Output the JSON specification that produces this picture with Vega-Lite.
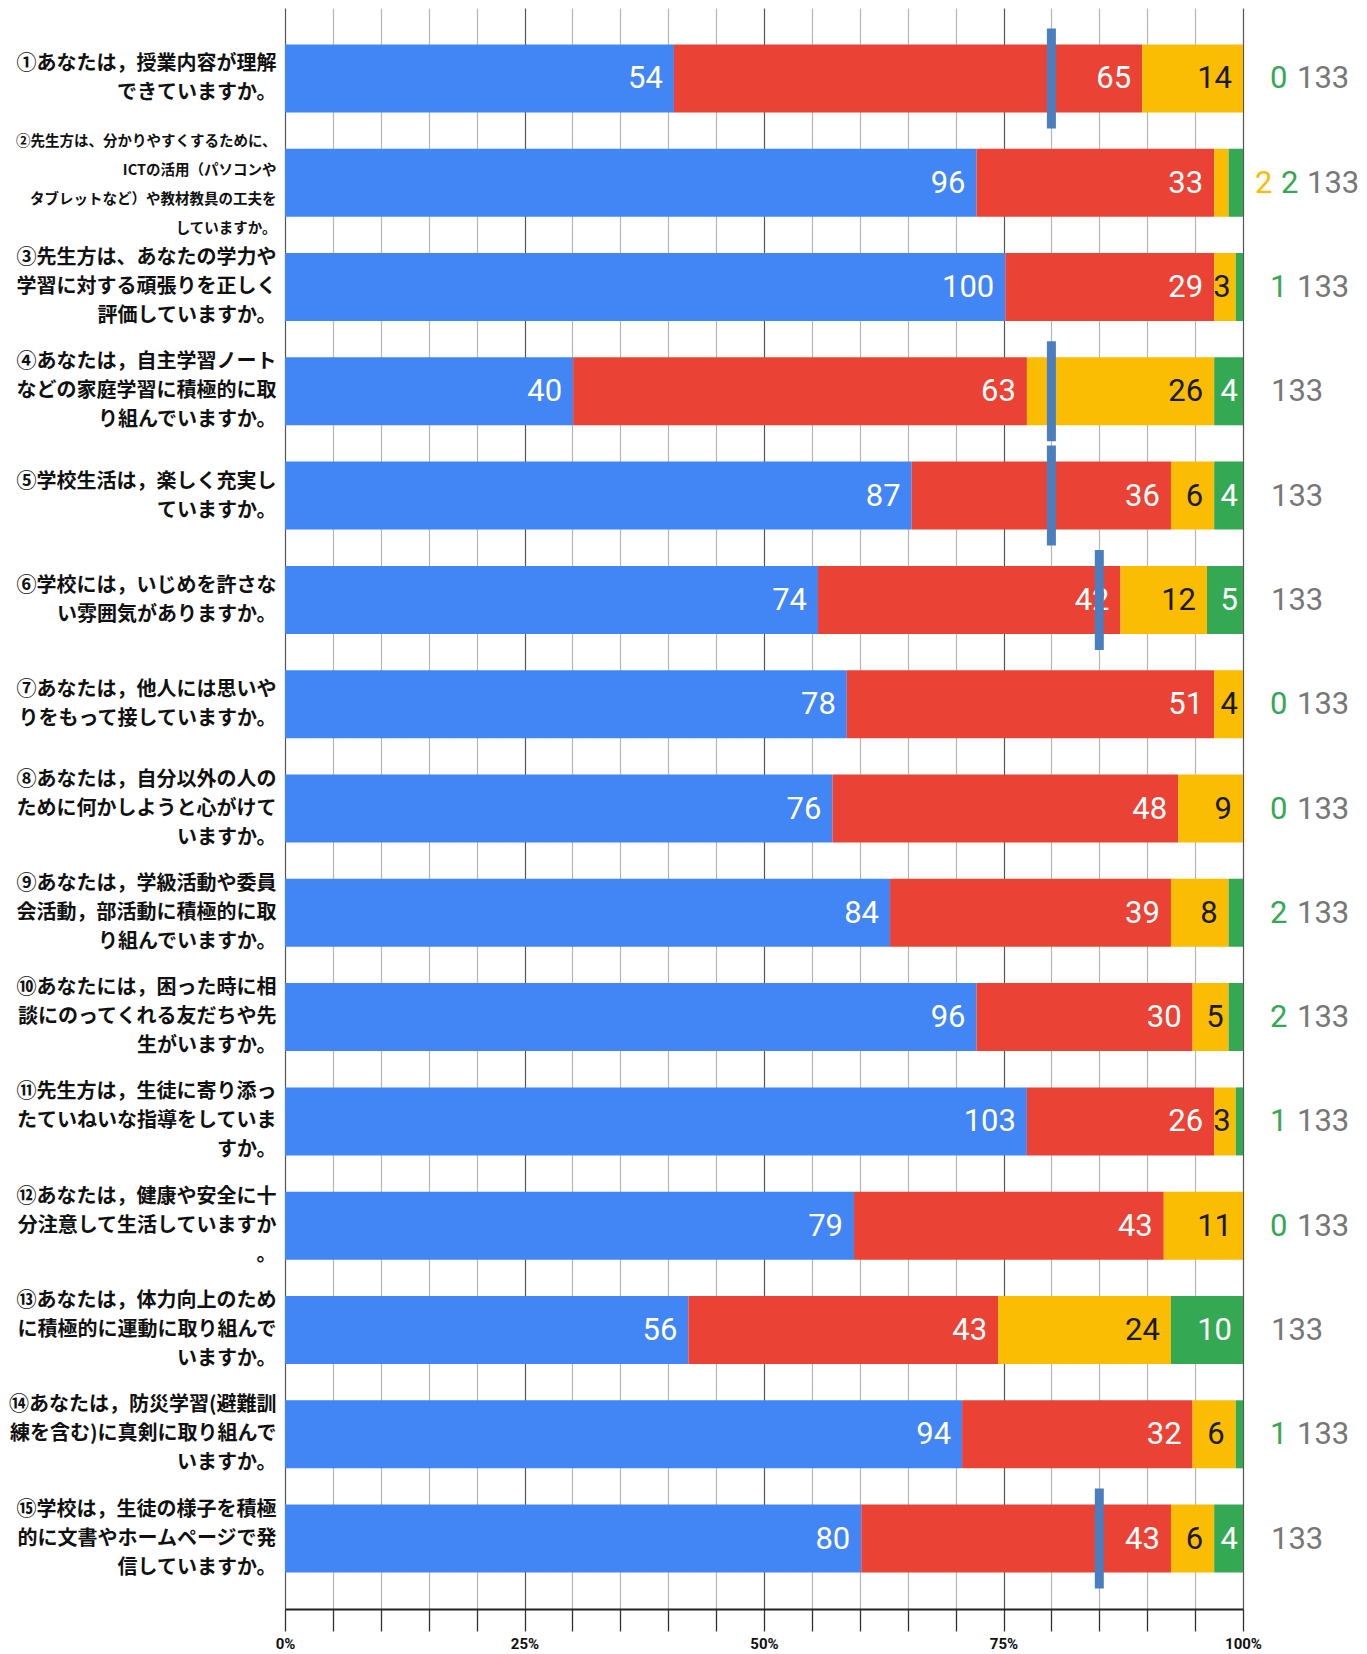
{
  "$schema": "https://vega.github.io/schema/vega-lite/v6.json",
  "autosize": "none",
  "width": 958,
  "height": 1601,
  "padding": {"left": 285, "top": 8, "right": 124, "bottom": 45},
  "background": "white",
  "config": {"view": {"stroke": null}},
  "data": {
    "values": [
      {"q": "①あなたは，授業内容が理解\nできていますか。", "よくあてはまる": 54, "ややあてはまる": 65, "あまりあてはまらない": 14, "あてはまらない": 0, "total": 133, "target": 0.8},
      {"q": "②先生方は、分かりやすくするために、\nICTの活用（パソコンや\nタブレットなど）や教材教具の工夫を\nしていますか。", "よくあてはまる": 96, "ややあてはまる": 33, "あまりあてはまらない": 2, "あてはまらない": 2, "total": 133, "target": null},
      {"q": "③先生方は、あなたの学力や\n学習に対する頑張りを正しく\n評価していますか。", "よくあてはまる": 100, "ややあてはまる": 29, "あまりあてはまらない": 3, "あてはまらない": 1, "total": 133, "target": null},
      {"q": "④あなたは，自主学習ノート\nなどの家庭学習に積極的に取\nり組んでいますか。", "よくあてはまる": 40, "ややあてはまる": 63, "あまりあてはまらない": 26, "あてはまらない": 4, "total": 133, "target": 0.8},
      {"q": "⑤学校生活は，楽しく充実し\nていますか。", "よくあてはまる": 87, "ややあてはまる": 36, "あまりあてはまらない": 6, "あてはまらない": 4, "total": 133, "target": 0.8},
      {"q": "⑥学校には，いじめを許さな\nい雰囲気がありますか。", "よくあてはまる": 74, "ややあてはまる": 42, "あまりあてはまらない": 12, "あてはまらない": 5, "total": 133, "target": 0.85},
      {"q": "⑦あなたは，他人には思いや\nりをもって接していますか。", "よくあてはまる": 78, "ややあてはまる": 51, "あまりあてはまらない": 4, "あてはまらない": 0, "total": 133, "target": null},
      {"q": "⑧あなたは，自分以外の人の\nために何かしようと心がけて\nいますか。", "よくあてはまる": 76, "ややあてはまる": 48, "あまりあてはまらない": 9, "あてはまらない": 0, "total": 133, "target": null},
      {"q": "⑨あなたは，学級活動や委員\n会活動，部活動に積極的に取\nり組んでいますか。", "よくあてはまる": 84, "ややあてはまる": 39, "あまりあてはまらない": 8, "あてはまらない": 2, "total": 133, "target": null},
      {"q": "⑩あなたには，困った時に相\n談にのってくれる友だちや先\n生がいますか。", "よくあてはまる": 96, "ややあてはまる": 30, "あまりあてはまらない": 5, "あてはまらない": 2, "total": 133, "target": null},
      {"q": "⑪先生方は，生徒に寄り添っ\nたていねいな指導をしていま\nすか。", "よくあてはまる": 103, "ややあてはまる": 26, "あまりあてはまらない": 3, "あてはまらない": 1, "total": 133, "target": null},
      {"q": "⑫あなたは，健康や安全に十\n分注意して生活していますか\n。", "よくあてはまる": 79, "ややあてはまる": 43, "あまりあてはまらない": 11, "あてはまらない": 0, "total": 133, "target": null},
      {"q": "⑬あなたは，体力向上のため\nに積極的に運動に取り組んで\nいますか。", "よくあてはまる": 56, "ややあてはまる": 43, "あまりあてはまらない": 24, "あてはまらない": 10, "total": 133, "target": null},
      {"q": "⑭あなたは，防災学習(避難訓\n練を含む)に真剣に取り組んで\nいますか。", "よくあてはまる": 94, "ややあてはまる": 32, "あまりあてはまらない": 6, "あてはまらない": 1, "total": 133, "target": null},
      {"q": "⑮学校は，生徒の様子を積極\n的に文書やホームページで発\n信していますか。", "よくあてはまる": 80, "ややあてはまる": 43, "あまりあてはまらない": 6, "あてはまらない": 4, "total": 133, "target": 0.85}
    ]
  },
  "transform": [
    {"fold": ["よくあてはまる", "ややあてはまる", "あまりあてはまらない", "あてはまらない"], "as": ["c", "n"]},
    {"calculate": "indexof(['よくあてはまる', 'ややあてはまる', 'あまりあてはまらない', 'あてはまらない'], datum.c)", "as": "k"},
    {"calculate": "(datum['あまりあてはまらない'] < 3 ? 1 : 0) + (datum['あてはまらない'] < 3 ? 1 : 0)", "as": "o"},
    {"stack": "n", "groupby": ["q"], "sort": [{"field": "k", "order": "ascending"}], "offset": "normalize", "as": ["x0", "x1"]}
  ],
  "encoding": {
    "y": {
      "field": "q",
      "type": "nominal",
      "sort": null,
      "title": null,
      "scale": {"paddingInner": 0.348, "paddingOuter": 0.349},
      "axis": {
        "domain": false,
        "ticks": false,
        "grid": false,
        "labelExpr": "split(datum.label, '\\n')",
        "labelFont": "Noto Sans CJK JP",
        "labelFontWeight": "bold",
        "labelFontSize": {"condition": {"test": "indexof(datum.value, '②') === 0", "value": 14.5}, "value": 20},
        "labelOffset": {"condition": [
          {"test": "length(split(datum.value, '\\n')) === 4", "value": -41},
          {"test": "length(split(datum.value, '\\n')) === 3", "value": -29},
          {"test": "length(split(datum.value, '\\n')) === 2", "value": -14}
        ], "value": 0},
        "labelLineHeight": 29,
        "labelColor": "#111111",
        "labelPadding": 9,
        "labelLimit": 600,
        "labelAlign": "right",
        "labelBaseline": "middle"
      }
    }
  },
  "layer": [
    {
      "mark": {"type": "bar"},
      "encoding": {
        "x": {
          "field": "x0",
          "type": "quantitative",
          "title": null,
          "scale": {"domain": [0, 1], "nice": false, "zero": true},
          "axis": {
            "values": [0, 0.05, 0.1, 0.15, 0.2, 0.25, 0.3, 0.35, 0.4, 0.45, 0.5, 0.55, 0.6, 0.65, 0.7, 0.75, 0.8, 0.85, 0.9, 0.95, 1],
            "labelExpr": "round(datum.value*100) % 25 === 0 ? round(datum.value*100) + '%' : ''",
            "grid": true,
            "gridColor": {"condition": {"test": "round(datum.value*100) % 25 === 0", "value": "#555555"}, "value": "#b5b5b5"},
            "gridWidth": 1.2,
            "tickSize": 22,
            "tickColor": "#333333",
            "tickWidth": 1.3,
            "domainColor": "#222222",
            "domainWidth": 2,
            "labelFont": "Roboto",
            "labelFontWeight": "bold",
            "labelFontSize": 15,
            "labelColor": "#111111",
            "labelPadding": 5,
            "labelFlush": false,
            "labelOverlap": false
          }
        },
        "x2": {"field": "x1"},
        "color": {
          "field": "c",
          "type": "nominal",
          "legend": null,
          "scale": {
            "domain": ["よくあてはまる", "ややあてはまる", "あまりあてはまらない", "あてはまらない"],
            "range": ["#4285f4", "#ea4335", "#fbbc04", "#34a853"]
          }
        }
      }
    },
    {
      "transform": [{"filter": "datum.n >= 6"}],
      "mark": {"type": "text", "align": "right", "baseline": "middle", "dx": -11, "dy": 1, "font": "Roboto", "fontSize": 31},
      "encoding": {
        "x": {"field": "x1", "type": "quantitative"},
        "text": {"field": "n", "type": "quantitative"},
        "color": {"condition": {"test": "datum.c === 'あまりあてはまらない'", "value": "#1a1a1a"}, "value": "#ffffff"}
      }
    },
    {
      "transform": [{"filter": "datum.n >= 3 && datum.n < 6"}],
      "mark": {"type": "text", "align": "right", "baseline": "middle", "dx": -5, "dy": 1, "font": "Roboto", "fontSize": 31},
      "encoding": {
        "x": {"field": "x1", "type": "quantitative"},
        "text": {"field": "n", "type": "quantitative"},
        "color": {"condition": {"test": "datum.c === 'あまりあてはまらない'", "value": "#1a1a1a"}, "value": "#ffffff"}
      }
    },
    {
      "transform": [{"filter": "datum.c === 'あてはまらない' && datum.o === 0"}],
      "mark": {"type": "text", "align": "left", "baseline": "middle", "dx": 28, "dy": 1, "font": "Roboto", "fontSize": 31, "color": "#777777"},
      "encoding": {
        "x": {"datum": 1, "type": "quantitative"},
        "text": {"field": "total", "type": "quantitative"}
      }
    },
    {
      "transform": [{"filter": "datum.c === 'あてはまらない' && datum.o === 1"}],
      "mark": {"type": "text", "align": "left", "baseline": "middle", "dx": 54, "dy": 1, "font": "Roboto", "fontSize": 31, "color": "#777777"},
      "encoding": {
        "x": {"datum": 1, "type": "quantitative"},
        "text": {"field": "total", "type": "quantitative"}
      }
    },
    {
      "transform": [{"filter": "datum.c === 'あてはまらない' && datum.o === 2"}],
      "mark": {"type": "text", "align": "left", "baseline": "middle", "dx": 64, "dy": 1, "font": "Roboto", "fontSize": 31, "color": "#777777"},
      "encoding": {
        "x": {"datum": 1, "type": "quantitative"},
        "text": {"field": "total", "type": "quantitative"}
      }
    },
    {
      "transform": [{"filter": "datum.c === 'あてはまらない' && datum.n < 3 && datum.o === 1"}],
      "mark": {"type": "text", "align": "left", "baseline": "middle", "dx": 27, "dy": 1, "font": "Roboto", "fontSize": 31, "color": "#34a853"},
      "encoding": {
        "x": {"datum": 1, "type": "quantitative"},
        "text": {"field": "n", "type": "quantitative"}
      }
    },
    {
      "transform": [{"filter": "datum.c === 'あてはまらない' && datum.n < 3 && datum.o === 2"}],
      "mark": {"type": "text", "align": "left", "baseline": "middle", "dx": 38, "dy": 1, "font": "Roboto", "fontSize": 31, "color": "#34a853"},
      "encoding": {
        "x": {"datum": 1, "type": "quantitative"},
        "text": {"field": "n", "type": "quantitative"}
      }
    },
    {
      "transform": [{"filter": "datum.c === 'あまりあてはまらない' && datum.n < 3"}],
      "mark": {"type": "text", "align": "left", "baseline": "middle", "dx": 12, "dy": 1, "font": "Roboto", "fontSize": 31, "color": "#fbbc04"},
      "encoding": {
        "x": {"datum": 1, "type": "quantitative"},
        "text": {"field": "n", "type": "quantitative"}
      }
    },
    {
      "transform": [{"filter": "datum.c === 'よくあてはまる' && isValid(datum.target)"}],
      "mark": {"type": "tick", "orient": "vertical", "size": 100, "thickness": 9, "color": "#4a7ebf", "opacity": 1},
      "encoding": {
        "x": {"field": "target", "type": "quantitative"}
      }
    }
  ]
}
